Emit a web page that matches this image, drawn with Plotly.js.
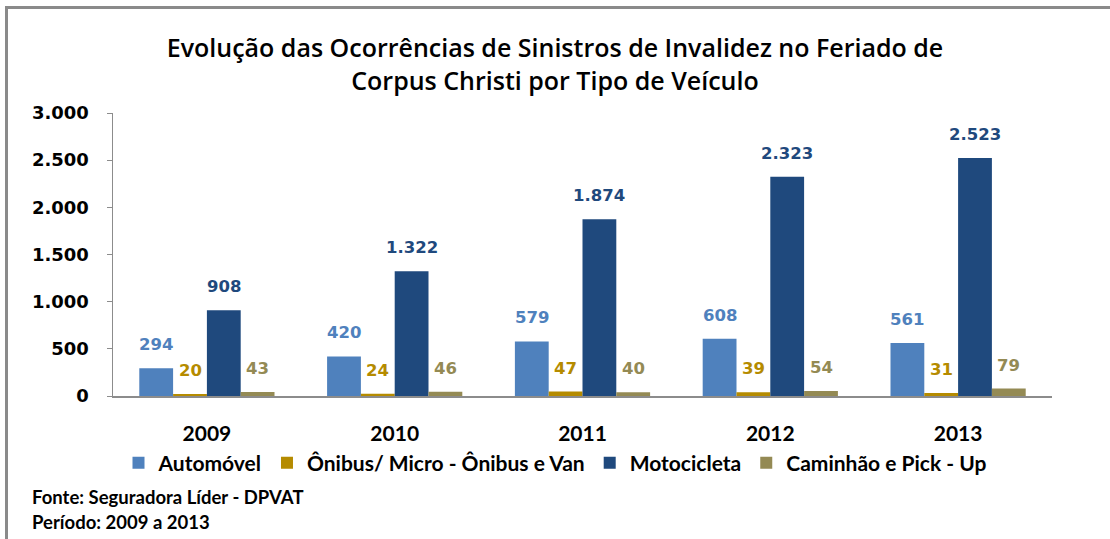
<!DOCTYPE html>
<html>
<head>
<meta charset="utf-8">
<script src="https://cdn.plot.ly/plotly-3.0.1.min.js"></script>
<style>
  html, body { margin: 0; padding: 0; background: #fff; }
  #wrap { position: relative; width: 1110px; height: 539px; overflow: hidden; }
  #frame { position: absolute; left: 5px; top: 6px; width: 1200px; height: 700px;
           border-left: 3px solid #8a8a8a; border-top: 3px solid #8a8a8a; pointer-events: none; }
  #chart { position: absolute; left: 0; top: 0; width: 1110px; height: 539px; }
</style>
</head>
<body>
<div id="wrap">
  <div id="chart"></div>
  <div id="frame"></div>
</div>
<script>
const years = ['2009', '2010', '2011', '2012', '2013'];
const seriesNames = ['Automóvel', 'Ônibus/ Micro - Ônibus e Van', 'Motocicleta', 'Caminhão e Pick - Up'];
const automovel = [294, 420, 579, 608, 561];
const onibus = [20, 24, 47, 39, 31];
const motocicleta = [908, 1322, 1874, 2323, 2523];
const caminhao = [43, 46, 40, 54, 79];
const colors = ['#4F81BD', '#B58B00', '#1F497D', '#948A54'];
const yTicks = [0, 500, 1000, 1500, 2000, 2500, 3000];
const sourceLines = ['Fonte: Seguradora Líder - DPVAT', 'Período: 2009 a 2013'];

const allSeries = [automovel, onibus, motocicleta, caminhao];
const bargap = 0.28;
const barW = (1 - bargap) / allSeries.length;

const traces = allSeries.map((vals, i) => ({
  type: 'bar',
  name: seriesNames[i],
  x: years,
  y: vals,
  marker: { color: colors[i], line: { width: 0 } },
  hoverinfo: 'skip'
}));

function fmt(v) {
  return String(v).replace(/\B(?=(\d{3})+(?!\d))/g, '.');
}

const annotations = [];
allSeries.forEach((vals, i) => {
  const off = -(1 - bargap) / 2 + (i + 0.5) * barW;
  vals.forEach((v, j) => {
    annotations.push({
      x: j + off, y: v, xref: 'x', yref: 'y',
      text: fmt(v), showarrow: false,
      yanchor: 'bottom', xanchor: 'center', yshift: 12,
      font: { family: 'DejaVu Sans', size: 16.5, color: colors[i], weight: 700 }
    });
  });
});
sourceLines.forEach((t, k) => {
  annotations.push({
    x: (30 - 113) / 939, y: (396 - (497 + 25 * k)) / 283,
    xref: 'paper', yref: 'paper', xanchor: 'left', yanchor: 'middle',
    text: t, showarrow: false,
    font: { family: 'Lato', size: 18.5, color: '#000', weight: 700 }
  });
});

const layout = {
  width: 1110, height: 539,
  margin: { l: 113, r: 58, t: 113, b: 143 },
  paper_bgcolor: '#fff', plot_bgcolor: '#fff',
  separators: ',.',
  barmode: 'group', bargap: bargap, bargroupgap: 0,
  title: {
    text: 'Evolução das Ocorrências de Sinistros de Invalidez no Feriado de<br>Corpus Christi por Tipo de Veículo',
    x: 0.5, xref: 'container', xanchor: 'center',
    y: 1 - 57 / 539, yref: 'container', yanchor: 'middle',
    font: { family: 'Open Sans', size: 25, color: '#000', weight: 600 }
  },
  xaxis: {
    type: 'category',
    showline: true, linecolor: '#8c8c8c', linewidth: 1.5,
    ticks: '', showgrid: false, zeroline: false,
    tickfont: { family: 'Lato', size: 21, color: '#000', weight: 700 },
    ticklabelstandoff: 18
  },
  yaxis: {
    range: [0, 3000],
    tickvals: yTicks,
    tickformat: ',d',
    showline: true, linecolor: '#8c8c8c', linewidth: 1.5,
    ticks: 'outside', ticklen: 5, tickcolor: '#8c8c8c',
    showgrid: false, zeroline: false,
    tickfont: { family: 'DejaVu Sans', size: 18, color: '#000', weight: 700 },
    ticklabelstandoff: 14
  },
  showlegend: true,
  legend: {
    orientation: 'h',
    xref: 'container', yref: 'container',
    x: 0.5, xanchor: 'center',
    y: 1 - 463 / 539, yanchor: 'middle',
    font: { family: 'Lato', size: 21, color: '#000', weight: 700 },
    itemwidth: 30,
    traceorder: 'normal',
    bgcolor: 'rgba(0,0,0,0)'
  },
  annotations: annotations
};

Plotly.newPlot('chart', traces, layout, { staticPlot: true, displayModeBar: false });
</script>
</body>
</html>
